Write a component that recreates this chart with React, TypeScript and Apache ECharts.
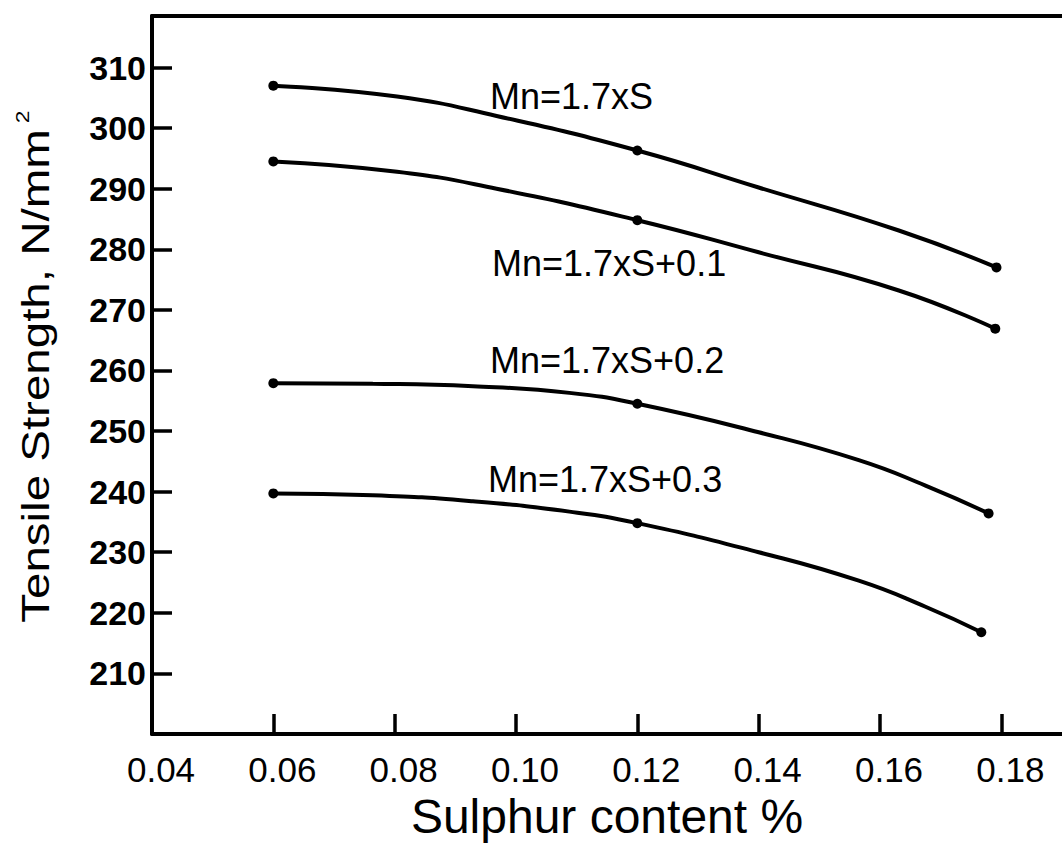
import React, { useEffect, useRef } from "react";
import * as echarts from "echarts";

// ---- data ----
const seriesNames = ["Mn=1.7xS", "Mn=1.7xS+0.1", "Mn=1.7xS+0.2", "Mn=1.7xS+0.3"];

const s1X = [0.06, 0.0804, 0.0968, 0.12, 0.14, 0.1631, 0.1792];
const s1Y = [307.0, 305.2, 302.0, 296.3, 290.2, 283.1, 277.0];
const s1Dots = [0, 3, 6];

const s2X = [0.06, 0.0804, 0.0968, 0.12, 0.14, 0.1631, 0.179];
const s2Y = [294.5, 292.8, 290.0, 284.8, 279.5, 273.2, 266.9];
const s2Dots = [0, 3, 6];

const s3X = [0.06, 0.0764, 0.0929, 0.1088, 0.12, 0.14, 0.1565, 0.1675, 0.1779];
const s3Y = [257.9, 257.8, 257.4, 256.3, 254.5, 249.8, 245.2, 241.0, 236.4];
const s3Dots = [0, 4, 8];

const s4X = [0.06, 0.0764, 0.0929, 0.1088, 0.12, 0.14, 0.1565, 0.1675, 0.1767];
const s4Y = [239.7, 239.4, 238.4, 236.7, 234.8, 230.0, 225.3, 221.0, 216.8];
const s4Dots = [0, 4, 8];

const xTickValues = [0.04, 0.06, 0.08, 0.1, 0.12, 0.14, 0.16, 0.18];
const yTickValues = [210, 220, 230, 240, 250, 260, 270, 280, 290, 300, 310];

const xTitle = "Sulphur content %";
const yTitle = "Tensile Strength, N/mm";
const yTitleSup = "2";

const FONT = '"Liberation Sans", Arial, sans-serif';

export default function App() {
  const ref = useRef<HTMLDivElement>(null);

  useEffect(() => {
    if (!ref.current) return;
    const chart = echarts.init(ref.current, undefined, { renderer: "svg" });

    const all = [
      [s1X, s1Y, s1Dots],
      [s2X, s2Y, s2Dots],
      [s3X, s3Y, s3Dots],
      [s4X, s4Y, s4Dots],
    ] as [number[], number[], number[]][];

    const series = all.map(([xs, ys, dots], i) => ({
      type: "line",
      name: seriesNames[i],
      data: xs.map((x, j) => [x, ys[j]]),
      smooth: 0.5,
      symbol: "circle",
      showSymbol: true,
      symbolSize: (_v: any, p: any) => (dots.includes(p.dataIndex) ? 10 : 0),
      lineStyle: { color: "#000", width: 4 },
      itemStyle: { color: "#000" },
      z: 3,
    }));

    const xFmt = (v: number) => {
      const k = Math.round((v - 0.04) / 0.02);
      if (Math.abs(v - (0.04 + 0.02 * k)) > 1e-6 || v > 0.185) return "";
      return v.toFixed(2);
    };
    const yFmt = (v: number) => {
      if (Math.abs(v - Math.round(v)) > 1e-6) return "";
      const r = Math.round(v);
      return yTickValues.includes(r) ? String(r) : "";
    };

    const axisLine = { show: true, onZero: false, lineStyle: { color: "#000", width: 4 } };

    chart.setOption({
      animation: false,
      backgroundColor: "#fff",
      grid: { left: 152, right: 0, top: 16, bottom: 113, containLabel: false },
      xAxis: [
        {
          type: "value",
          position: "bottom",
          min: 0.04,
          max: 0.19,
          interval: 0.02,
          axisLine,
          axisTick: {
            show: true,
            inside: true,
            length: 20,
            customValues: xTickValues,
            lineStyle: { color: "#000", width: 3.5 },
          },
          axisLabel: {
            customValues: xTickValues,
            formatter: xFmt,
            color: "#000",
            fontSize: 35,
            fontFamily: FONT,
            margin: 18,
            padding: [0, 0, 0, 18],
          },
          splitLine: { show: false },
          name: xTitle,
          nameLocation: "middle",
          nameGap: 58,
          nameTextStyle: { color: "#000", fontSize: 48, fontFamily: FONT },
        },
        {
          type: "value",
          position: "top",
          min: 0.04,
          max: 0.19,
          axisLine,
          axisTick: { show: false },
          axisLabel: { show: false },
          splitLine: { show: false },
        },
      ],
      yAxis: {
        type: "value",
        min: 200,
        max: 318.5,
        interval: 10,
        axisLine,
        axisTick: {
          show: true,
          inside: true,
          length: 20,
          customValues: yTickValues,
          lineStyle: { color: "#000", width: 3.5 },
        },
        axisLabel: {
          customValues: yTickValues,
          formatter: yFmt,
          color: "#000",
          fontSize: 34,
          fontWeight: "bold",
          fontFamily: FONT,
          margin: 6,
        },
        splitLine: { show: false },
      },
      series,
      graphic: [
        {
          type: "text",
          x: 36,
          y: 376,
          rotation: Math.PI / 2,
          scaleX: 1.25,
          style: {
            text: yTitle,
            fill: "#000",
            fontSize: 38,
            fontFamily: FONT,
            align: "center",
            verticalAlign: "middle",
          },
        },
        {
          type: "text",
          x: 22,
          y: 117,
          rotation: Math.PI / 2,
          scaleX: 1.2,
          style: {
            text: yTitleSup,
            fill: "#000",
            fontSize: 19,
            fontFamily: FONT,
            align: "center",
            verticalAlign: "middle",
          },
        },
        ...[
          [490, 96],
          [492, 263],
          [490, 360],
          [488, 479],
        ].map(([x, y], i) => ({
          type: "text",
          x,
          y,
          style: {
            text: seriesNames[i],
            fill: "#000",
            fontSize: 36,
            fontFamily: FONT,
            align: "left",
            verticalAlign: "middle",
          },
        })),
      ],
    });

    return () => chart.dispose();
  }, []);

  return (
    <div
      ref={ref}
      style={{ position: "absolute", left: 0, top: 0, width: 1062, height: 847, background: "#fff" }}
    />
  );
}
